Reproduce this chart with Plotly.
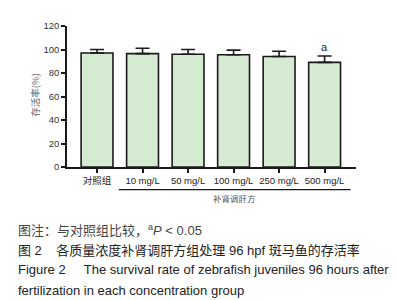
import plotly.graph_objects as go

categories = ["对照组", "10 mg/L", "50 mg/L", "100 mg/L", "250 mg/L", "500 mg/L"]
survival = [97, 96.5, 96, 95.5, 94, 89]
sd_upper = [3, 4.5, 4, 4, 4.5, 5.5]
y_ticks = [0, 20, 40, 60, 80, 100, 120]
sig_labels = ["", "", "", "", "", "a"]

LAT = "Liberation Sans, Arial, Noto Sans CJK SC"
CJK = "Noto Sans CJK SC, Liberation Sans"

fig = go.Figure()
fig.add_trace(go.Bar(
    x=list(range(len(categories))),
    y=survival,
    marker=dict(color="#d4ebd1", line=dict(color="#1a1a1a", width=1.6)),
    error_y=dict(type="data", symmetric=False, array=sd_upper,
                 arrayminus=[0] * len(sd_upper),
                 color="#1a1a1a", thickness=1.6, width=7),
    width=0.7,
    showlegend=False,
))

for i, (v, e, s) in enumerate(zip(survival, sd_upper, sig_labels)):
    if s:
        fig.add_annotation(x=i, y=v + e, text=s, showarrow=False,
                           yanchor="bottom", yshift=1,
                           font=dict(family=LAT, size=11, color="#222"))

fig.update_layout(
    width=397, height=300,
    margin=dict(l=59, r=49, t=14, b=141),
    paper_bgcolor="white", plot_bgcolor="white",
    font=dict(family=LAT, color="#222"),
    xaxis=dict(
        tickmode="array", tickvals=list(range(len(categories))), ticktext=categories,
        range=[-0.66, 5.69], showline=True, linecolor="#1a1a1a", linewidth=1.6,
        ticks="outside", ticklen=4, tickwidth=1.5, tickcolor="#1a1a1a",
        showgrid=False, zeroline=False,
        tickfont=dict(family=LAT, size=9.5, color="#222"),
    ),
    yaxis=dict(
        range=[0, 120], tickvals=y_ticks, showline=True, linecolor="#1a1a1a",
        linewidth=1.6, ticks="outside", ticklen=4, tickwidth=1.5,
        tickcolor="#1a1a1a", showgrid=False, zeroline=False,
        tickfont=dict(family=LAT, size=9.5, color="#333"),
    ),
)

# group bracket line under treatment groups
fig.add_shape(type="line", xref="x", yref="paper", x0=0.48, x1=5.57,
              y0=-0.16, y1=-0.16, line=dict(color="#1a1a1a", width=1.2))
fig.add_annotation(xref="x", yref="paper", x=3.02, y=-0.28, text="补肾调肝方",
                   showarrow=False, font=dict(family=CJK, size=8.5, color="#555"))

# y-axis title
fig.add_annotation(xref="paper", yref="paper", x=-0.14, y=0.51, text="存活率(%)",
                   textangle=-90, showarrow=False,
                   font=dict(family=CJK, size=9.5, color="#666"))

# caption
captions = [
    ("图注：与对照组比较，<sup>a</sup><i>P</i> &lt; 0.05", -0.45, "#444"),
    ("图 2\u00a0\u00a0\u00a0\u00a0各质量浓度补肾调肝方组处理 96 hpf 斑马鱼的存活率", -0.59, "#222"),
    ("Figure 2\u00a0\u00a0\u00a0\u00a0\u00a0The survival rate of zebrafish juveniles 96 hours after", -0.73, "#222"),
    ("fertilization in each concentration group", -0.875, "#222"),
]
for txt, yy, col in captions:
    fig.add_annotation(xref="paper", yref="paper", x=-0.176, y=yy, text=txt,
                       xanchor="left", yanchor="middle", showarrow=False, align="left",
                       font=dict(family=LAT, size=13, color=col))

fig.write_html("out.html")
